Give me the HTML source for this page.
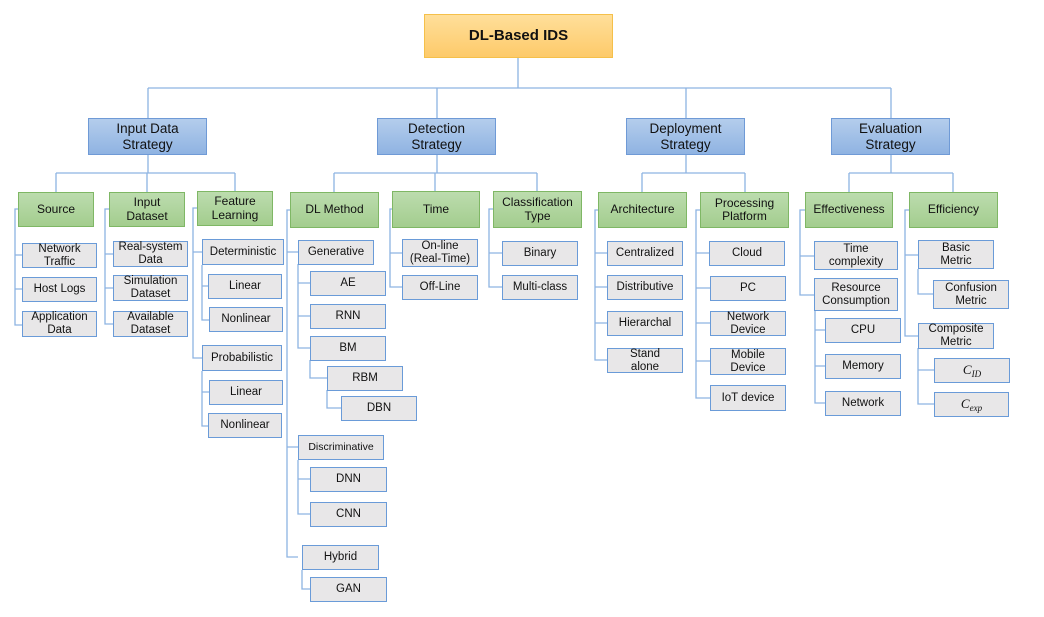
<!DOCTYPE html>
<html><head><meta charset="utf-8"><style>
body{margin:0;width:1044px;height:617px;background:#fff;position:relative;overflow:hidden;font-family:"Liberation Sans",sans-serif;}
.b{position:absolute;display:flex;align-items:center;justify-content:center;text-align:center;box-sizing:border-box;line-height:1.12;color:#111;}
.t{background:linear-gradient(#ffdf9a,#fdca6a);border:1.5px solid #f5c04a;font-weight:bold;font-size:15px;}
.l1{background:linear-gradient(#b4cdec,#8fb3e2);border:1.5px solid #6f9ad6;font-size:13.5px;}
.l2{background:linear-gradient(#bcdcae,#a3cd8e);border:1.5px solid #7fb765;font-size:12px;}
.lf{background:#e8e7e8;border:1.5px solid #6a9bd8;font-size:11.5px;}
svg{position:absolute;left:0;top:0}
</style></head><body>
<svg width="1044" height="617" fill="none" stroke="#8db3e2" stroke-width="1.3">
<path d="M518 58V88M148 88H891M148 88V118M437 88V118M686 88V118M891 88V118"/>
<path d="M148 155V173M56 173H235M56 173V192M147 173V192M235 173V191"/>
<path d="M437 155V173M334 173H537M334 173V192M435 173V191M537 173V191"/>
<path d="M686 155V173M642 173H745M642 173V192M745 173V192"/>
<path d="M891 155V173M849 173H953M849 173V192M953 173V192"/>
<path d="M18 209H15V325H22M15 255H22M15 289H22"/>
<path d="M109 209H105V324H113M105 254H113M105 288H113"/>
<path d="M197 208H193V358H202M193 252H202"/>
<path d="M202 265V320H209M202 286H208"/>
<path d="M202 371V426H208M202 392H209"/>
<path d="M290 210H287V557H298M287 252H298M287 447H298"/>
<path d="M298 264V348H310M298 283H310M298 316H310"/>
<path d="M310 360V378H327M327 390V408H341"/>
<path d="M298 460V514H310M298 479H310"/>
<path d="M302 570V589H310"/>
<path d="M392 209H390V287H402M390 253H402"/>
<path d="M493 209H489V287H502M489 253H502"/>
<path d="M598 210H595V360H607M595 253H607M595 287H607M595 323H607"/>
<path d="M700 210H696V398H710M696 253H709M696 288H710M696 323H710M696 361H710"/>
<path d="M805 210H800V295H814M800 256H814"/>
<path d="M815 311V403H825M815 330H825M815 366H825"/>
<path d="M909 210H905V336H918M905 255H918"/>
<path d="M918 269V294H933M918 348V404H934M918 370H934"/>
</svg>
<div class="b t" style="left:424px;top:14px;width:189px;height:44px">DL-Based IDS</div>
<div class="b l1" style="left:88px;top:118px;width:119px;height:37px">Input Data<br>Strategy</div>
<div class="b l1" style="left:377px;top:118px;width:119px;height:37px">Detection<br>Strategy</div>
<div class="b l1" style="left:626px;top:118px;width:119px;height:37px">Deployment<br>Strategy</div>
<div class="b l1" style="left:831px;top:118px;width:119px;height:37px">Evaluation<br>Strategy</div>

<div class="b l2" style="left:18px;top:192px;width:76px;height:35px">Source</div>
<div class="b l2" style="left:109px;top:192px;width:76px;height:35px">Input<br>Dataset</div>
<div class="b l2" style="left:197px;top:191px;width:76px;height:35px">Feature<br>Learning</div>
<div class="b l2" style="left:290px;top:192px;width:89px;height:36px">DL Method</div>
<div class="b l2" style="left:392px;top:191px;width:88px;height:37px">Time</div>
<div class="b l2" style="left:493px;top:191px;width:89px;height:37px">Classification<br>Type</div>
<div class="b l2" style="left:598px;top:192px;width:89px;height:36px">Architecture</div>
<div class="b l2" style="left:700px;top:192px;width:89px;height:36px">Processing<br>Platform</div>
<div class="b l2" style="left:805px;top:192px;width:88px;height:36px">Effectiveness</div>
<div class="b l2" style="left:909px;top:192px;width:89px;height:36px">Efficiency</div>

<div class="b lf" style="left:22px;top:243px;width:75px;height:25px">Network<br>Traffic</div>
<div class="b lf" style="left:22px;top:277px;width:75px;height:25px">Host Logs</div>
<div class="b lf" style="left:22px;top:311px;width:75px;height:26px">Application<br>Data</div>
<div class="b lf" style="left:113px;top:241px;width:75px;height:26px">Real-system<br>Data</div>
<div class="b lf" style="left:113px;top:275px;width:75px;height:26px">Simulation<br>Dataset</div>
<div class="b lf" style="left:113px;top:311px;width:75px;height:26px">Available<br>Dataset</div>
<div class="b lf" style="left:202px;top:239px;width:82px;height:26px">Deterministic</div>
<div class="b lf" style="left:208px;top:274px;width:74px;height:25px">Linear</div>
<div class="b lf" style="left:209px;top:307px;width:74px;height:25px">Nonlinear</div>
<div class="b lf" style="left:202px;top:345px;width:80px;height:26px">Probabilistic</div>
<div class="b lf" style="left:209px;top:380px;width:74px;height:25px">Linear</div>
<div class="b lf" style="left:208px;top:413px;width:74px;height:25px">Nonlinear</div>
<div class="b lf" style="left:298px;top:240px;width:76px;height:25px">Generative</div>
<div class="b lf" style="left:310px;top:271px;width:76px;height:25px">AE</div>
<div class="b lf" style="left:310px;top:304px;width:76px;height:25px">RNN</div>
<div class="b lf" style="left:310px;top:336px;width:76px;height:25px">BM</div>
<div class="b lf" style="left:327px;top:366px;width:76px;height:25px">RBM</div>
<div class="b lf" style="left:341px;top:396px;width:76px;height:25px">DBN</div>
<div class="b lf" style="left:298px;top:435px;width:86px;height:25px;font-size:10.5px">Discriminative</div>
<div class="b lf" style="left:310px;top:467px;width:77px;height:25px">DNN</div>
<div class="b lf" style="left:310px;top:502px;width:77px;height:25px">CNN</div>
<div class="b lf" style="left:302px;top:545px;width:77px;height:25px">Hybrid</div>
<div class="b lf" style="left:310px;top:577px;width:77px;height:25px">GAN</div>
<div class="b lf" style="left:402px;top:239px;width:76px;height:28px">On-line<br>(Real-Time)</div>
<div class="b lf" style="left:402px;top:275px;width:76px;height:25px">Off-Line</div>
<div class="b lf" style="left:502px;top:241px;width:76px;height:25px">Binary</div>
<div class="b lf" style="left:502px;top:275px;width:76px;height:25px">Multi-class</div>
<div class="b lf" style="left:607px;top:241px;width:76px;height:25px">Centralized</div>
<div class="b lf" style="left:607px;top:275px;width:76px;height:25px">Distributive</div>
<div class="b lf" style="left:607px;top:311px;width:76px;height:25px">Hierarchal</div>
<div class="b lf" style="left:607px;top:348px;width:76px;height:25px">Stand<br>alone</div>
<div class="b lf" style="left:709px;top:241px;width:76px;height:25px">Cloud</div>
<div class="b lf" style="left:710px;top:276px;width:76px;height:25px">PC</div>
<div class="b lf" style="left:710px;top:311px;width:76px;height:25px">Network<br>Device</div>
<div class="b lf" style="left:710px;top:348px;width:76px;height:27px">Mobile<br>Device</div>
<div class="b lf" style="left:710px;top:385px;width:76px;height:26px">IoT device</div>
<div class="b lf" style="left:814px;top:241px;width:84px;height:29px">Time<br>complexity</div>
<div class="b lf" style="left:814px;top:278px;width:84px;height:33px">Resource<br>Consumption</div>
<div class="b lf" style="left:825px;top:318px;width:76px;height:25px">CPU</div>
<div class="b lf" style="left:825px;top:354px;width:76px;height:25px">Memory</div>
<div class="b lf" style="left:825px;top:391px;width:76px;height:25px">Network</div>
<div class="b lf" style="left:918px;top:240px;width:76px;height:29px">Basic<br>Metric</div>
<div class="b lf" style="left:933px;top:280px;width:76px;height:29px">Confusion<br>Metric</div>
<div class="b lf" style="left:918px;top:323px;width:76px;height:26px">Composite<br>Metric</div>
<div class="b lf" style="left:934px;top:358px;width:76px;height:25px;font-family:'Liberation Serif',serif;font-style:italic;font-size:13px"><span>C</span><span style="font-size:9px;position:relative;top:4px">ID</span></div>
<div class="b lf" style="left:934px;top:392px;width:75px;height:25px;font-family:'Liberation Serif',serif;font-style:italic;font-size:13px"><span>C</span><span style="font-size:9px;position:relative;top:4px">exp</span></div>
</body></html>
